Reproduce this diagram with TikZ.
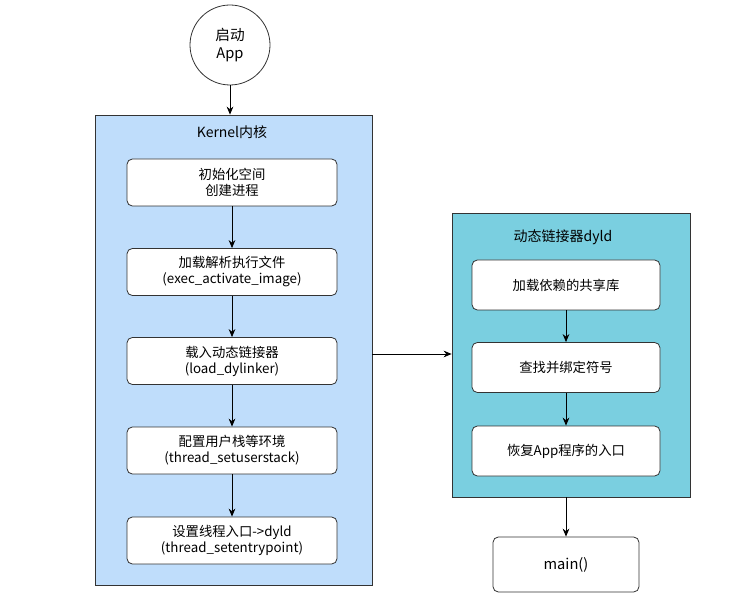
\documentclass[tikz,border=0pt]{standalone}
\usepackage{fontspec}
\setmainfont{Noto Sans CJK SC}
\usetikzlibrary{arrows.meta}
\definecolor{kblue}{RGB}{191,221,251}
\definecolor{dcyan}{RGB}{122,207,224}
\begin{document}
\begin{tikzpicture}[x=0.75pt,y=-0.75pt,
  box/.style={draw=black!80,fill=white,rounded corners=4pt,line width=0.6pt,align=center,font=\fontsize{10}{12}\selectfont},
  arr/.style={-{Stealth[length=6pt,width=5pt]},line width=0.6pt}]
\useasboundingbox (0,0) rectangle (745,605);
\node[draw=black!80,circle,minimum size=60pt,line width=0.6pt,align=center,font=\fontsize{11}{13}\selectfont] (start) at (230,45) {启动\\App};
\node[draw=black!80,fill=kblue,line width=0.6pt,minimum width=277*0.75pt,minimum height=470*0.75pt] (kernel) at (233.5,350) {};
\node[font=\fontsize{10.5}{12}\selectfont] (kt) at (232,132) {Kernel内核};
\foreach \n/\y/\t in {k1/182.5/{初始化空间\\创建进程},k2/272/{加载解析执行文件\\(exec\_activate\_image)},k3/361/{载入动态链接器\\(load\_dylinker)},k4/450.5/{配置用户栈等环境\\(thread\_setuserstack)},k5/540.5/{设置线程入口->dyld\\(thread\_setentrypoint)}}
  \node[box,minimum width=210*0.75pt,minimum height=47*0.75pt] (\n) at (232,\y) {\t};
\draw[arr] (k1) -- (k2); \draw[arr] (k2) -- (k3); \draw[arr] (k3) -- (k4); \draw[arr] (k4) -- (k5);
\node[draw=black!80,fill=dcyan,line width=0.6pt,minimum width=238*0.75pt,minimum height=284*0.75pt] (dyld) at (571,355) {};
\node[font=\fontsize{10.5}{12}\selectfont] (dt) at (563,237) {动态链接器dyld};
\foreach \n/\y/\t in {d1/285/{加载依赖的共享库},d2/367.5/{查找并绑定符号},d3/451/{恢复App程序的入口}}
  \node[box,minimum width=188*0.75pt,minimum height=50*0.75pt] (\n) at (566,\y) {\t};
\draw[arr] (d1) -- (d2); \draw[arr] (d2) -- (d3);
\node[box,minimum width=146*0.75pt,minimum height=55*0.75pt,font=\fontsize{11}{13}\selectfont] (main) at (566,564.5) {main()};
\draw[arr] (start) -- (kernel.north -| start);
\draw[arr] (kernel.east |- 0,354) -- (dyld.west |- 0,354);
\draw[arr] (dyld.south -| main) -- (main);
\end{tikzpicture}
\end{document}
